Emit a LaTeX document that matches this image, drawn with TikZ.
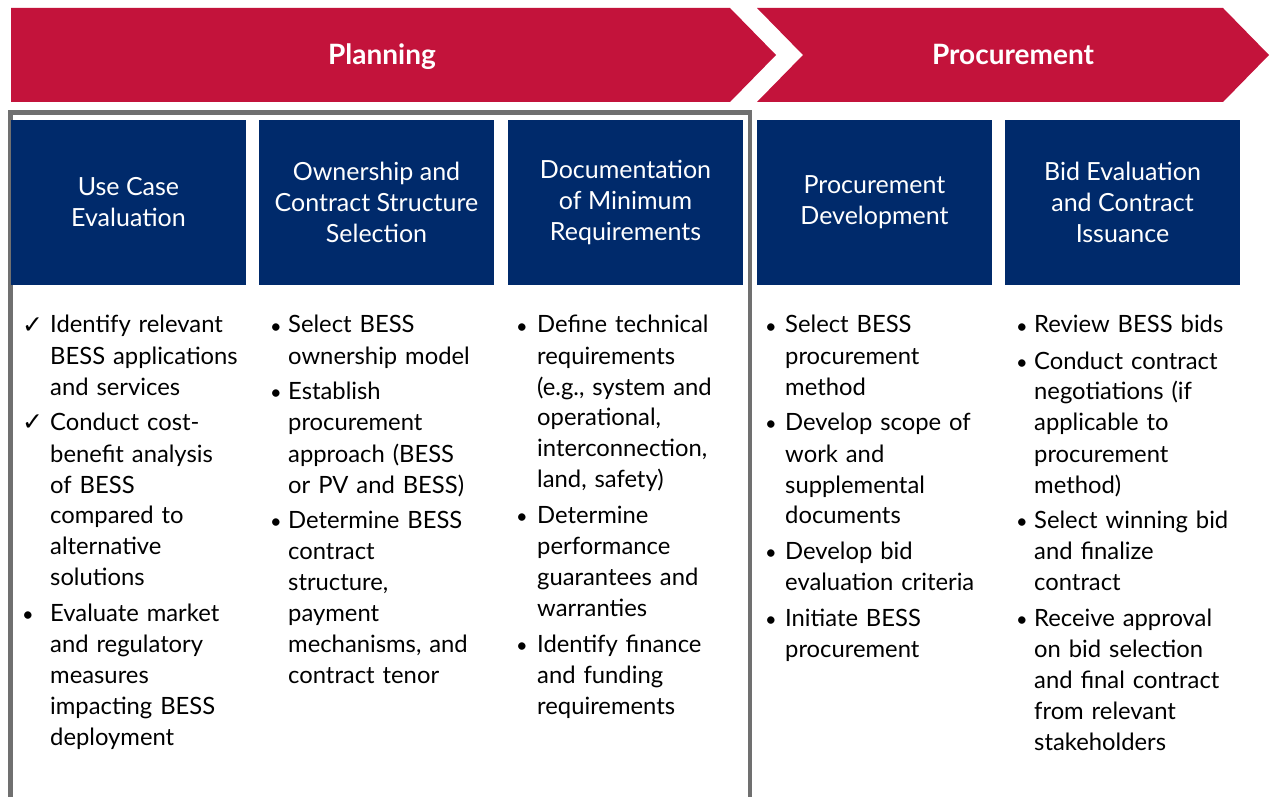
\documentclass[tikz,border=0pt]{standalone}
\usepackage{fontspec}
\setmainfont{Lato}
\newfontfamily\symfont{DejaVu Sans}

\definecolor{bannerred}{HTML}{C3133B}
\definecolor{headnavy}{HTML}{002A6B}
\definecolor{framegray}{HTML}{707070}

% list entries with a hanging indent after the mark
\newlength\markwd
\newcommand\entry[2]{\par\noindent\hangindent=\markwd\hangafter=1\makebox[\markwd][l]{#1}#2\par}
\newcommand\bul{{\fontsize{20}{20}\selectfont\textbullet}}
\newcommand\chk{{\symfont\fontsize{25}{25}\selectfont ✓}}

\tikzset{
    bannertitle/.style={text=white, anchor=base, font=\fontsize{28}{34}\selectfont\bfseries},
    headbox/.style={fill=headnavy, text=white, minimum width=235pt, minimum height=165pt,
        inner sep=0pt, align=center, font=\fontsize{25}{31}\selectfont},
    itemlist/.style={text width=240pt, align=left, anchor=base west, inner sep=0pt,
        font=\fontsize{23.8}{31}\selectfont,
        execute at begin node={\setlength{\markwd}{#1}\setlength{\parskip}{5pt}}},
}

\begin{document}
\begin{tikzpicture}[x=1pt, y=-1pt]
    \useasboundingbox (0,0) rectangle (1270,797);

    % phase banners
    \fill[bannerred] (11,8) -- (730,8) -- (776,55) -- (730,102) -- (11,102) -- cycle;
    \fill[bannerred] (757,8) -- (1223,8) -- (1269,55) -- (1223,102) -- (757,102) -- (803,55) -- cycle;
    \node[bannertitle] (plan) at (382,65) {Planning};
    \node[bannertitle] (proc) at (1013,65) {Procurement};

    % frame round the planning steps
    \draw[framegray, line width=4.5pt] (10.7,797) |- (750,112.5) -- (750,797);

    % step headers
    \node[headbox] (usecase) at (128.5,202.5) {Use Case\\Evaluation};
    \node[headbox] (owner) at (376.5,202.5) {Ownership and\\Contract Structure\\Selection};
    \node[headbox] (docs) at (625.5,202.5) {Documentation\\of Minimum\\Requirements};
    \node[headbox] (procdev) at (874.5,202.5) {Procurement\\Development};
    \node[headbox] (bideval) at (1122.5,202.5) {Bid Evaluation\\and Contract\\Issuance};

    % tasks under each step (first baseline at 333)
    \node[itemlist=28pt] (usecase_l) at (22,297) {%
        \entry{\chk}{Identify relevant\newline BESS applications\newline and services}
        \entry{\chk}{Conduct cost-\newline benefit analysis\newline of BESS\newline compared to\newline alternative\newline solutions}
        \entry{\bul}{Evaluate market\newline and regulatory\newline measures\newline impacting BESS\newline deployment}};
    \node[itemlist=18pt] (owner_l) at (270,297) {%
        \entry{\bul}{Select BESS\newline ownership model}
        \entry{\bul}{Establish\newline procurement\newline approach (BESS\newline or PV and BESS)}
        \entry{\bul}{Determine BESS\newline contract\newline structure,\newline payment\newline mechanisms, and\newline contract tenor}};
    \node[itemlist=21pt] (docs_l) at (516,297) {%
        \entry{\bul}{Define technical\newline requirements\newline (e.g., system and\newline operational,\newline interconnection,\newline land, safety)}
        \entry{\bul}{Determine\newline performance\newline guarantees and\newline warranties}
        \entry{\bul}{Identify finance\newline and funding\newline requirements}};
    \node[itemlist=20pt] (procdev_l) at (765,297) {%
        \entry{\bul}{Select BESS\newline procurement\newline method}
        \entry{\bul}{Develop scope of\newline work and\newline supplemental\newline documents}
        \entry{\bul}{Develop bid\newline evaluation criteria}
        \entry{\bul}{Initiate BESS\newline procurement}};
    \node[itemlist=18pt] (bideval_l) at (1016,297) {%
        \entry{\bul}{Review BESS bids}
        \entry{\bul}{Conduct contract\newline negotiations (if\newline applicable to\newline procurement\newline method)}
        \entry{\bul}{Select winning bid\newline and finalize\newline contract}
        \entry{\bul}{Receive approval\newline on bid selection\newline and final contract\newline from relevant\newline stakeholders}};
\end{tikzpicture}
\end{document}
